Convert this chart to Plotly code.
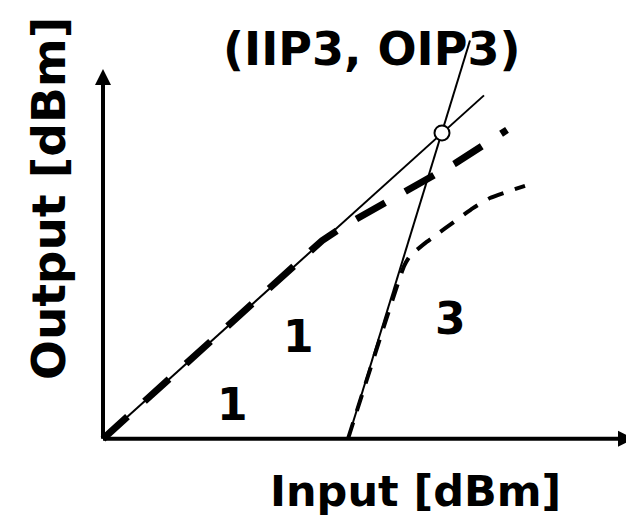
import plotly.graph_objects as go

# Conceptual IIP3 diagram (arbitrary dBm units, origin at axes corner)
fund_x = [0, 381]
fund_y = [0, 338]
third_x = [245, 367]
third_y = [0, 392]
fund_out_x = [0, 219, 242, 307, 352, 404]
fund_out_y = [0, 195, 210, 245, 271, 304]
im3_out_x = [245, 301, 307, 324, 342, 370, 387, 422]
im3_out_y = [0, 170, 180, 194, 207, 227, 237, 249]
ip3_x = [339]
ip3_y = [301]
x_axis_end = 531
y_axis_end = 364

FONT = "DejaVu Sans"
fig = go.Figure()

# axes with arrows
fig.add_trace(go.Scatter(x=[0, x_axis_end - 8], y=[0, 0], mode="lines",
                         line=dict(color="black", width=4), hoverinfo="skip"))
fig.add_trace(go.Scatter(x=[0, 0], y=[0, y_axis_end - 8], mode="lines",
                         line=dict(color="black", width=4), hoverinfo="skip"))
fig.add_trace(go.Scatter(x=[x_axis_end], y=[0], mode="markers",
                         marker=dict(symbol="arrow-right", size=16, color="black",
                                     line=dict(width=0)), hoverinfo="skip"))
fig.add_trace(go.Scatter(x=[0], y=[y_axis_end], mode="markers",
                         marker=dict(symbol="arrow-up", size=16, color="black",
                                     line=dict(width=0)), hoverinfo="skip"))

# extrapolated lines
fig.add_trace(go.Scatter(x=fund_x, y=fund_y, mode="lines",
                         line=dict(color="black", width=2), hoverinfo="skip"))
fig.add_trace(go.Scatter(x=third_x, y=third_y, mode="lines",
                         line=dict(color="black", width=2), hoverinfo="skip"))
# actual outputs
fig.add_trace(go.Scatter(x=fund_out_x, y=fund_out_y, mode="lines",
                         line=dict(color="black", width=7, dash="33px,23px"),
                         hoverinfo="skip"))
fig.add_trace(go.Scatter(x=im3_out_x, y=im3_out_y, mode="lines",
                         line=dict(color="black", width=4, dash="17px,12px", shape="spline",
                                   smoothing=0.4),
                         hoverinfo="skip"))
# intercept point
fig.add_trace(go.Scatter(x=ip3_x, y=ip3_y, mode="markers",
                         marker=dict(symbol="circle", size=15, color="white",
                                     line=dict(color="black", width=2)),
                         hoverinfo="skip"))

def label(text, x, y, size, angle=0):
    fig.add_annotation(x=x, y=y, xref="x", yref="y", text=text, showarrow=False,
                       textangle=angle,
                       font=dict(family=FONT, size=size, color="black", weight="bold"))

label("(IIP3, OIP3)", 268, 384, 46)
label("Input [dBm]", 312, -51, 43)
label("Output [dBm]", -55, 236, 47, angle=-90)
label("1", 129, 34, 44)
label("1", 195, 101, 44)
label("3", 347, 118, 44)

# page has an 8px body margin: size the figure to the visible area
fig.update_layout(
    width=626, height=507,
    margin=dict(l=0, r=0, t=0, b=0),
    paper_bgcolor="white", plot_bgcolor="white",
    showlegend=False,
    xaxis=dict(range=[-95, 531], visible=False, fixedrange=True),
    yaxis=dict(range=[-75, 424], visible=False, fixedrange=True),
)
fig.write_html("out.html")
